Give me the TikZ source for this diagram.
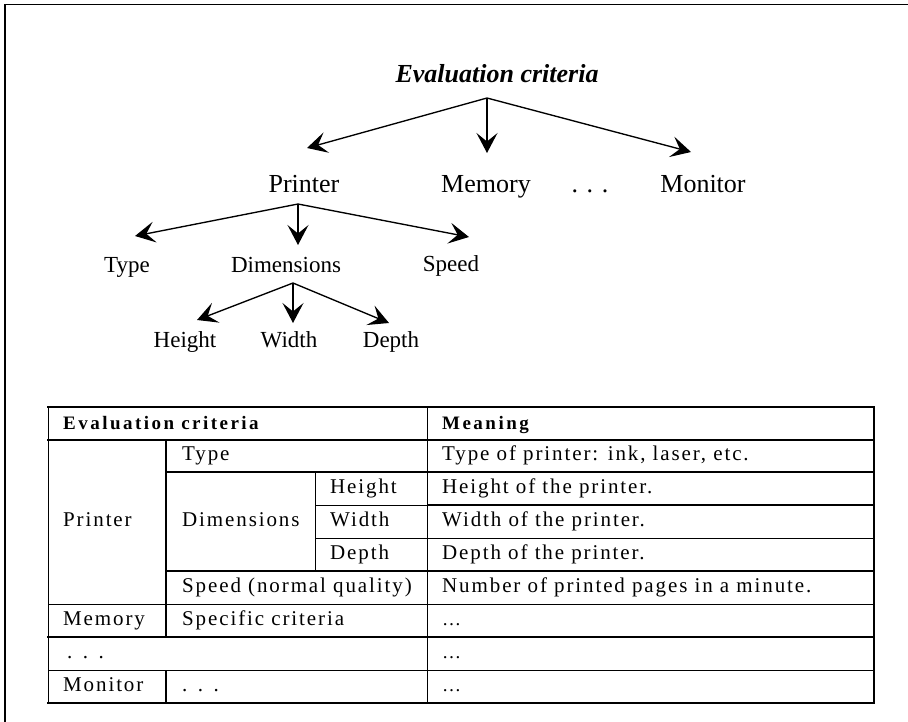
\documentclass[tikz,border=0pt]{standalone}
\usepackage{fontspec}
\setmainfont{Liberation Serif}
\newfontfamily\tabfont{Liberation Serif}[LetterSpace=9]
\newfontfamily\tabboldfont{Liberation Serif Bold}[LetterSpace=13]
\usetikzlibrary{arrows.meta}
\tikzset{
  arr/.style={line width=1.35pt,-{Stealth[length=20pt,width=21pt,inset=8.5pt]}},
  lvtop/.style={inner sep=0pt,anchor=base,font=\fontsize{26}{30}\selectfont\bfseries\itshape},
  lvtwo/.style={inner sep=0pt,anchor=base,font=\fontsize{26}{30}\selectfont},
  lvthree/.style={inner sep=0pt,anchor=base,font=\fontsize{23}{27}\selectfont},
  cell/.style={inner sep=0pt,anchor=base west,font=\tabfont\fontsize{21}{25}\selectfont},
  hcell/.style={inner sep=0pt,anchor=base west,font=\tabboldfont\fontsize{19}{23}\selectfont},
  thickrule/.style={line width=2pt},
  thinrule/.style={line width=1pt},
  framerule/.style={line width=1.8pt}
}
\begin{document}
\begin{tikzpicture}[x=1pt,y=-1pt]
\useasboundingbox (0,0) rectangle (908,721);
% frame
\draw[framerule] (5,730) -- (5,4.5) -- (915,4.5);

% ---------- tree ----------
\node[lvtop] (root) at (497,82) {Evaluation criteria};
\node[lvtwo] (printer) at (304,192) {Printer};
\node[lvtwo] (memory) at (486,192) {Memory};
\node[lvtwo] (dots) at (590,192) {.\,\,.\,\,.};
\node[lvtwo] (monitor) at (703,192) {Monitor};
\node[lvthree] (type) at (127,272) {Type};
\node[lvthree] (dim) at (286,272) {Dimensions};
\node[lvthree] (speed) at (451,271) {Speed};
\node[lvthree] (height) at (185,347) {Height};
\node[lvthree] (width) at (289,347) {Width};
\node[lvthree] (depth) at (391,347) {Depth};

\coordinate (a0) at (487,98);
\coordinate (t0a) at (307,148);
\coordinate (t0b) at (487,153);
\coordinate (t0c) at (691,152);
\draw[arr] (a0) -- (t0a);
\draw[arr] (a0) -- (t0b);
\draw[arr] (a0) -- (t0c);

\coordinate (a1) at (298,204);
\coordinate (t1a) at (135,236);
\coordinate (t1b) at (298,245);
\coordinate (t1c) at (469,237);
\draw[arr] (a1) -- (t1a);
\draw[arr] (a1) -- (t1b);
\draw[arr] (a1) -- (t1c);

\coordinate (a2) at (293,283);
\coordinate (t2a) at (197,320);
\coordinate (t2b) at (293,323);
\coordinate (t2c) at (389,323);
\draw[arr] (a2) -- (t2a);
\draw[arr] (a2) -- (t2b);
\draw[arr] (a2) -- (t2c);

% ---------- table ----------
% horizontal rules
\draw[thickrule] (47,407) -- (875,407);
\draw[thickrule] (47,440) -- (875,440);
\draw[thickrule] (166,472) -- (875,472);
\draw[thinrule] (315,505) -- (427,505);
\draw[thickrule] (427,505) -- (875,505);
\draw[thinrule] (315,538) -- (875,538);
\draw[thickrule] (166,571) -- (875,571);
\draw[thinrule] (48,604) -- (874,604);
\draw[thickrule] (47,637) -- (875,637);
\draw[thinrule] (48,670) -- (874,670);
\draw[thickrule] (47,703) -- (875,703);
% vertical rules
\draw[thinrule] (48,407) -- (48,704);
\draw[thickrule] (166,440) -- (166,637);
\draw[thickrule] (166,670) -- (166,703);
\draw[thinrule] (315,472) -- (315,571);
\draw[thinrule] (427,407) -- (427,704);
\draw[thickrule] (874,406) -- (874,704);

% cells
\node[hcell] (h1) at (63,429) {Evaluation criteria};
\node[hcell] (h2) at (442,429) {Meaning};
\node[cell] (c1) at (182,460) {Type};
\node[cell] (m1) at (442,460) {Type of printer: ink, laser, etc.};
\node[cell] (c2) at (330,493) {Height};
\node[cell] (m2) at (442,493) {Height of the printer.};
\node[cell] (c3) at (330,526) {Width};
\node[cell] (m3) at (442,526) {Width of the printer.};
\node[cell] (c4) at (330,559) {Depth};
\node[cell] (m4) at (442,559) {Depth of the printer.};
\node[cell] (c5) at (182,592) {Speed (normal quality)};
\node[cell] (m5) at (442,592) {Number of printed pages in a minute.};
\node[cell] (cp) at (63,526) {Printer};
\node[cell] (cd) at (182,526) {Dimensions};
\node[cell] (c6) at (63,625) {Memory};
\node[cell] (c6b) at (182,625) {Specific criteria};
\node[cell] (m6) at (442,625) {\fontsize{19}{22}\selectfont …};
\node[cell] (c7) at (67,658) {.\,\,\,.\,\,\,.};
\node[cell] (m7) at (442,658) {\fontsize{19}{22}\selectfont …};
\node[cell] (c8) at (63,691) {Monitor};
\node[cell] (c8b) at (182,691) {.\,\,\,.\,\,\,.};
\node[cell] (m8) at (442,691) {\fontsize{19}{22}\selectfont …};
\end{tikzpicture}
\end{document}
